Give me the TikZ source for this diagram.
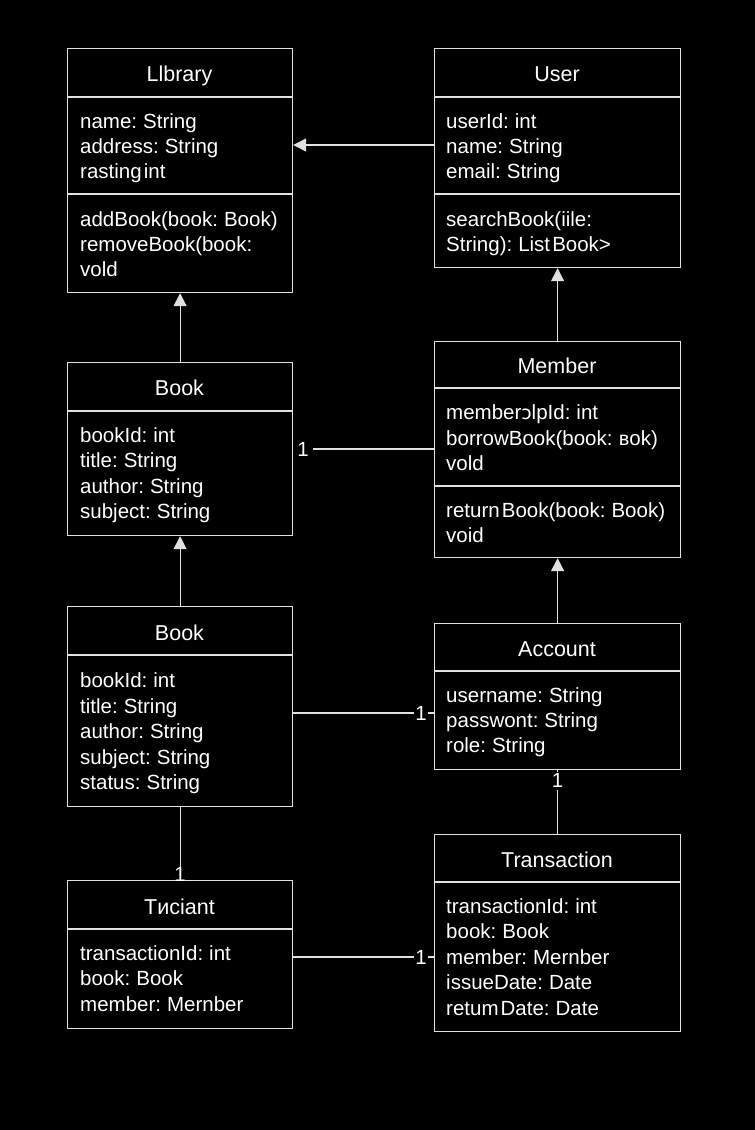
\documentclass[tikz,border=0pt]{standalone}
\usepackage{fontspec}
\setmainfont[WordSpace=0.72]{Liberation Sans}
\newfontfamily\dv[Scale=0.92]{DejaVu Sans}
\usetikzlibrary{arrows.meta}
\definecolor{linec}{RGB}{225,225,225}
\begin{document}
\begin{tikzpicture}[x=1pt,y=-1pt,
  box/.style={draw=linec, line width=1.2pt, fill=black, inner sep=0pt, anchor=north west},
  ctitle/.style={text=white, font=\fontsize{21.5}{25}\selectfont, anchor=mid, inner sep=0pt, yshift=-5pt},
  attr/.style={text=white, font=\fontsize{20.5}{25}\selectfont, anchor=mid west, inner sep=0pt, yshift=-5pt},
  sepline/.style={draw=linec, line width=1.2pt},
  conn/.style={draw=linec, line width=1.2pt},
  inh/.style={conn, -{Triangle[width=13pt,length=13pt]}},
  mult/.style={text=white, font=\fontsize{20.5}{25}\selectfont, fill=black},
  multtext/.style={text=white, font=\fontsize{20.5}{25}\selectfont, inner sep=0pt}
]
\fill[black] (0,0) rectangle (755,1130);
\useasboundingbox (0,0) rectangle (755,1130);

% ---------- Library ----------
\node[box, minimum width=225pt, minimum height=244pt] (lib) at (67,48) {};
\draw[sepline] (67,97) -- (292,97);
\draw[sepline] (67,194) -- (292,194);
\node[ctitle] (libt) at (179.5,74) {Llbrary};
\node[attr] (lib1) at (80,121) {name: String};
\node[attr] (lib2) at (80,146) {address: String};
\node[attr] (lib3) at (80,171) {rasting\hspace{-2pt} int};
\node[attr] (lib4) at (80,219) {addBook(book: Book)};
\node[attr] (lib5) at (80,244) {removeBook(book:};
\node[attr] (lib6) at (80,269) {vold};

% ---------- User ----------
\node[box, minimum width=246pt, minimum height=219pt] (user) at (434,48) {};
\draw[sepline] (434,97) -- (680,97);
\draw[sepline] (434,194) -- (680,194);
\node[ctitle] (usert) at (557,74) {User};
\node[attr] (user1) at (446,121) {userId: int};
\node[attr] (user2) at (446,146) {name: String};
\node[attr] (user3) at (446,171) {email: String};
\node[attr] (user4) at (446,219) {searchBook(iile:};
\node[attr] (user5) at (446,244) {String): List\hspace{-2pt} Book>};

% ---------- Book (1) ----------
\node[box, minimum width=225pt, minimum height=173pt] (bookA) at (67,362) {};
\draw[sepline] (67,411) -- (292,411);
\node[ctitle] (bookAt) at (179.5,388) {Book};
\node[attr] (bookA1) at (80,435) {bookId: int};
\node[attr] (bookA2) at (80,460) {title: String};
\node[attr] (bookA3) at (80,486) {author: String};
\node[attr] (bookA4) at (80,511) {subject: String};

% ---------- Member ----------
\node[box, minimum width=246pt, minimum height=216pt] (mem) at (434,341) {};
\draw[sepline] (434,388) -- (680,388);
\draw[sepline] (434,486) -- (680,486);
\node[ctitle] (memt) at (557,366) {Member};
\node[attr] (mem1) at (446,412) {member{\dv ɔ}lpId: int};
\node[attr] (mem2) at (446,438) {borrowBook(book: {\dv ʙ}ok)};
\node[attr] (mem3) at (446,463) {vold};
\node[attr] (mem4) at (446,510) {return\hspace{-2pt} Book(book: Book)};
\node[attr] (mem5) at (446,535) {void};

% ---------- Book (2) ----------
\node[box, minimum width=225pt, minimum height=200pt] (bookB) at (67,606) {};
\draw[sepline] (67,655) -- (292,655);
\node[ctitle] (bookBt) at (179.5,633) {Book};
\node[attr] (bookB1) at (80,680) {bookId: int};
\node[attr] (bookB2) at (80,706) {title: String};
\node[attr] (bookB3) at (80,731) {author: String};
\node[attr] (bookB4) at (80,757) {subject: String};
\node[attr] (bookB5) at (80,782) {status: String};

% ---------- Account ----------
\node[box, minimum width=246pt, minimum height=146pt] (acc) at (434,623) {};
\draw[sepline] (434,671) -- (680,671);
\node[ctitle] (acct) at (557,649) {Account};
\node[attr] (acc1) at (446,695) {username: String};
\node[attr] (acc2) at (446,720) {passwont: String};
\node[attr] (acc3) at (446,745) {role: String};

% ---------- Trnciant ----------
\node[box, minimum width=225pt, minimum height=148pt] (trc) at (67,880) {};
\draw[sepline] (67,929) -- (292,929);
\node[ctitle] (trct) at (179.5,907) {Tиciant};
\node[attr] (trc1) at (80,953) {transactionId: int};
\node[attr] (trc2) at (80,978) {book: Book};
\node[attr] (trc3) at (80,1004) {member: Mernber};

% ---------- Transaction ----------
\node[box, minimum width=246pt, minimum height=197pt] (tra) at (434,834) {};
\draw[sepline] (434,882) -- (680,882);
\node[ctitle] (trat) at (557,860) {Transaction};
\node[attr] (tra1) at (446,906) {transactionId: int};
\node[attr] (tra2) at (446,931) {book: Book};
\node[attr] (tra3) at (446,957) {member: Mernber};
\node[attr] (tra4) at (446,982) {issueDate: Date};
\node[attr] (tra5) at (446,1008) {retum\hspace{-2pt} Date: Date};

% ---------- connectors ----------
\coordinate (yA) at (0,145);
\coordinate (yB) at (0,449);
\coordinate (yC) at (0,713);
\coordinate (yD) at (0,957);

\draw[inh] (user.west |- yA) -- (lib.east |- yA);
\draw[inh] (bookA.north) -- (lib.south);
\draw[inh] (mem.north) -- (user.south);
\draw[inh] (bookB.north) -- (bookA.south);
\draw[inh] (acc.north) -- (mem.south);

\node[multtext, anchor=west, inner xsep=2pt, xshift=2pt] (mAB) at (bookA.east |- yB) {1};
\draw[conn, shorten <=2pt] (mAB.east) -- (mem.west |- yB);
\draw[conn] (bookB.east |- yC) -- (acc.west |- yC)
  node[mult, pos=0.908, inner xsep=1pt, inner ysep=1pt] (mBA) {1};
\draw[conn] (trc.east |- yD) -- (tra.west |- yD)
  node[mult, pos=0.908, inner xsep=1pt, inner ysep=1pt] (mTT) {1};
\draw[conn] (acc.south) -- (tra.north)
  node[mult, pos=0, anchor=north, yshift=-1pt, inner xsep=1pt, inner ysep=2pt] (mAT) {1};
\draw[conn] (bookB.south) -- (trc.north);
\node[multtext, anchor=mid] (mBT) at (180,879) {1};
\end{tikzpicture}
\end{document}
